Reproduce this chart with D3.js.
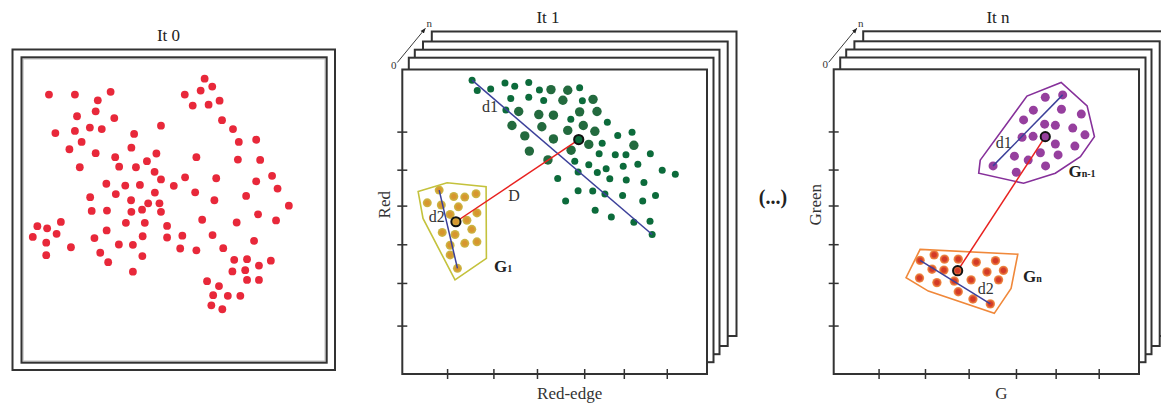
<!DOCTYPE html>
<html>
<head>
<meta charset="utf-8">
<script src="https://cdn.jsdelivr.net/npm/d3@7"></script>
<style>
  body { margin: 0; background: #fff; }
  svg { display: block; font-family: "Liberation Serif", "DejaVu Serif", serif; }
</style>
</head>
<body>
<div id="chart"></div>
<script>
// panel units: 0..100 on both axes of each plot area

// It 0 – unclassified pixels
const it0Points = [
  [9.0,87.8],[17.5,87.8],[25.0,85.9],[29.2,88.7],[18.2,80.7],[24.3,82.3],[30.4,80.1],[11.1,75.2],
  [17.5,75.9],[22.4,77.0],[26.3,76.5],[19.7,72.3],[15.7,69.9],[24.3,68.6],[19.1,64.0],[36.9,74.9],
  [36.0,70.4],[30.7,67.3],[32.0,64.2],[37.5,64.0],[41.1,66.0],[44.2,68.5],[45.7,77.6],[43.6,62.5],
  [45.7,60.0],[27.8,58.6],[34.0,58.0],[38.8,58.2],[30.9,55.2],[43.7,55.7],[49.9,57.9],[53.6,60.7],
  [56.9,55.8],[57.3,67.3],[63.8,60.4],[60.0,93.0],[53.5,87.8],[58.7,89.1],[62.5,90.4],[56.1,84.2],
  [61.3,84.5],[64.9,85.8],[65.7,79.4],[69.3,76.5],[71.2,72.3],[76.9,73.0],[70.9,66.5],[78.2,66.4],
  [82.1,61.2],[76.9,59.4],[83.9,57.0],[73.6,54.6],[63.2,53.2],[22.5,54.2],[35.9,53.2],[23.0,49.7],
  [28.0,49.8],[36.0,49.4],[39.5,50.1],[41.5,52.2],[45.2,52.2],[45.7,49.4],[87.6,51.4],[77.5,48.6],
  [83.4,46.6],[70.5,45.9],[59.2,46.8],[34.2,45.8],[40.4,45.8],[47.7,44.8],[12.9,46.1],[5.2,44.7],
  [8.4,44.0],[11.5,42.2],[3.7,41.2],[8.1,39.3],[16.2,37.8],[8.1,35.2],[27.9,43.3],[23.9,40.8],
  [39.7,41.4],[47.7,41.0],[52.7,41.6],[62.6,41.8],[31.9,38.7],[36.5,38.6],[25.8,36.0],[28.4,32.9],
  [39.6,34.9],[36.5,29.8],[52.0,37.4],[57.3,36.8],[66.1,37.5],[76.2,39.9],[69.7,33.7],[73.9,33.9],
  [77.8,31.8],[81.7,33.4],[69.1,29.9],[73.3,30.3],[73.9,27.1],[77.8,27.1],[60.8,26.7],[64.7,25.1],
  [62.8,22.1],[67.6,21.9],[71.7,21.9],[62.2,18.8],[65.8,17.5]
];

// It 1 – green cluster (two dot sizes), yellow group G1
const it1GreenSmall = [
  [22.9,96.5],[24.6,93.1],[29.0,93.6],[33.7,95.6],[36.9,94.5],[41.5,95.7],[45.0,93.3],[58.2,94.0],
  [35.6,90.5],[41.5,90.9],[46.4,89.8],[59.1,89.7],[34.0,86.7],[55.3,83.7],[67.3,82.7],[65.6,75.8],
  [70.7,78.3],[75.4,79.4],[56.6,69.9],[64.6,72.3],[69.9,72.0],[73.4,72.0],[81.4,72.3],[61.2,68.7],
  [66.9,67.4],[72.5,68.2],[77.3,68.9],[57.7,66.3],[64.0,66.2],[51.0,64.2],[68.1,64.1],[73.5,63.7],
  [79.3,62.9],[85.3,66.9],[89.6,65.6],[57.7,60.2],[62.5,60.1],[66.5,59.1],[72.3,58.6],[78.9,56.8],
  [83.1,58.6],[53.6,56.8],[63.3,53.8],[68.6,51.6],[76.0,49.8],[81.3,50.2],[82.0,45.8]
];
const it1GreenLarge = [
  [48.8,93.4],[54.3,93.2],[52.7,89.9],[62.6,90.2],[38.2,86.2],[44.8,85.2],[49.6,85.0],[58.2,86.1],
  [63.9,86.2],[36.0,81.6],[45.8,81.2],[54.3,80.0],[59.4,81.6],[63.2,79.7],[40.2,78.2],[49.6,77.2],
  [61.2,75.4],[76.0,75.1],[41.7,73.2],[47.8,70.3],[55.4,73.5]
];
const it1GreenCentre = [57.9,77.0];
const it1Yellow = [
  [12.1,60.4],[16.9,58.3],[20.5,58.1],[24.2,59.2],[8.2,56.2],[12.8,55.5],[18.4,54.9],[15.7,52.4],
  [24.5,52.9],[21.2,50.5],[13.1,46.5],[17.3,45.8],[22.8,47.5],[15.7,42.3],[20.5,42.9],[24.5,43.4],
  [15.7,39.1],[18.1,34.7]
];
const it1YellowCentre = [17.6,50.0];
const it1YellowHull = [[5.2,59.9],[14.7,62.8],[27.5,61.5],[27.6,38.0],[17.3,30.9],[6.8,51.1]];
const it1D1 = [[22.9,96.5],[82.0,45.8]];
const it1D2 = [[12.1,60.4],[18.1,34.7]];
const it1D = [it1GreenCentre, it1YellowCentre];

// It n – purple group Gn-1, orange group Gn
const itnPurple = [
  [52.2,68.3],[75.0,91.6],[69.3,90.8],[65.4,86.6],[74.6,86.9],[81.1,85.3],[62.2,83.4],[69.1,82.0],
  [72.6,81.6],[78.3,80.7],[82.3,78.5],[61.7,77.7],[65.3,78.0],[72.6,75.5],[79.0,74.8],[59.2,71.5],
  [63.7,70.2],[67.7,72.6],[73.5,71.9],[59.8,66.2],[69.4,68.3]
];
const itnPurpleCentre = [69.3,77.9];
const itnPurpleHull = [[48.0,70.2],[63.3,91.2],[74.5,95.7],[83.0,88.0],[85.4,77.9],[80.8,71.3],[72.6,65.9],[62.2,62.6],[47.5,65.9]];
const itnOrange = [
  [32.9,39.1],[36.3,37.7],[40.8,37.7],[46.7,36.7],[53.0,37.2],[28.3,37.3],[32.2,34.4],[36.1,34.1],
  [50.2,33.5],[55.6,34.0],[28.1,31.5],[33.8,30.0],[39.5,30.5],[45.0,30.9],[54.0,30.9],[40.8,27.0],
  [45.6,24.6],[51.3,23.0]
];
const itnOrangeCentre = [40.6,33.9];
const itnOrangeHull = [[28.3,40.9],[60.3,39.3],[58.1,28.1],[52.6,19.9],[31.0,27.2],[23.7,31.6]];
const itnD1 = [[52.2,68.3],[75.0,91.6]];
const itnD2 = [[28.3,37.3],[51.3,23.0]];
const itnD = [itnPurpleCentre, itnOrangeCentre];

// axis ticks (unlabelled)
const xTicks = [14.7, 29.9, 44.2, 59.7, 72.7, 86.8];
const yTicks = [15.9, 29.9, 42.6, 55.3, 67.1, 79.6];

// annotations, in panel units
const it1Labels = [
  { text: "d1", at: [28.8, 87.7] },
  { text: "d2", at: [11.3, 51.4] },
  { text: "D", at: [36.7, 58.4] }
];
const itnLabels = [
  { text: "d1", at: [55.7, 75.7] },
  { text: "d2", at: [49.8, 27.9] }
];

const width = 1161, height = 403;
const ink = "#333";

const svg = d3.select("#chart").append("svg")
  .attr("width", width)
  .attr("height", height);

svg.append("rect").attr("width", width).attr("height", height).attr("fill", "#fff");

const defs = svg.append("defs");
function radial(id, inner, outer) {
  const g = defs.append("radialGradient").attr("id", id);
  g.append("stop").attr("offset", "45%").attr("stop-color", inner);
  g.append("stop").attr("offset", "100%").attr("stop-color", outer);
}
radial("yellowDot", "#d7962e", "#c9bd4a");
radial("orangeDot", "#d43a26", "#f49a4c");

defs.append("marker")
  .attr("id", "arrow")
  .attr("viewBox", "0 0 10 10")
  .attr("refX", 9).attr("refY", 5)
  .attr("markerWidth", 6).attr("markerHeight", 6)
  .attr("orient", "auto")
  .append("path").attr("d", "M0,1 L10,5 L0,9 Z").attr("fill", "#222");

const frames = {
  it0: { x: 21.5, y: 57.3, w: 305.2, h: 305.4 },
  it1: { x: 402.3, y: 69.5, w: 304.7, h: 304.5 },
  itn: { x: 833.7, y: 69.3, w: 305.3, h: 304.7 }
};
const stackOffsets = [[29.5, -38], [20.7, -28], [12.5, -19.8], [6.5, -11.8]];

function scalesFor(f) {
  return {
    x: d3.scaleLinear().domain([0, 100]).range([f.x, f.x + f.w]),
    y: d3.scaleLinear().domain([0, 100]).range([f.y + f.h, f.y])
  };
}

function title(text, x, y) {
  svg.append("text")
    .attr("x", x).attr("y", y)
    .attr("text-anchor", "middle")
    .attr("font-size", 17)
    .attr("fill", "#222")
    .text(text);
}

function dots(g, data, s, r, fill) {
  g.append("g").selectAll("circle")
    .data(data)
    .join("circle")
    .attr("cx", d => s.x(d[0]))
    .attr("cy", d => s.y(d[1]))
    .attr("r", r)
    .attr("fill", fill);
}

function hull(g, pts, s, color) {
  g.append("path")
    .attr("d", d3.line().x(d => s.x(d[0])).y(d => s.y(d[1])).curve(d3.curveLinearClosed)(pts))
    .attr("fill", "none")
    .attr("stroke", color)
    .attr("stroke-width", 1.6);
}

function segment(g, pts, s, color) {
  g.append("line")
    .attr("x1", s.x(pts[0][0])).attr("y1", s.y(pts[0][1]))
    .attr("x2", s.x(pts[1][0])).attr("y2", s.y(pts[1][1]))
    .attr("stroke", color)
    .attr("stroke-width", 1.5);
}

function centre(g, p, s, fill) {
  g.append("circle")
    .attr("cx", s.x(p[0])).attr("cy", s.y(p[1]))
    .attr("r", 4.6)
    .attr("fill", fill)
    .attr("stroke", "#111")
    .attr("stroke-width", 2);
}

function labels(g, list, s) {
  g.append("g").selectAll("text")
    .data(list)
    .join("text")
    .attr("x", d => s.x(d.at[0]))
    .attr("y", d => s.y(d.at[1]) + 5)
    .attr("text-anchor", "middle")
    .attr("font-size", 16)
    .attr("fill", "#333")
    .text(d => d.text);
}

function groupName(g, at, s, sub) {
  const t = g.append("text")
    .attr("x", s.x(at[0]))
    .attr("y", s.y(at[1]) + 5)
    .attr("font-weight", "bold")
    .attr("font-size", 17)
    .attr("fill", "#222");
  t.append("tspan").text("G");
  t.append("tspan").attr("font-size", 10).text(sub);
}

// stacked plot with crossing ticks, arrow 0 -> n
function stackedPlot(f, s, yLabel, xLabel, yLabelX) {
  const g = svg.append("g");
  stackOffsets.forEach(o => {
    g.append("rect")
      .attr("x", f.x + o[0]).attr("y", f.y + o[1])
      .attr("width", f.w).attr("height", f.h)
      .attr("fill", "#fff").attr("stroke", ink).attr("stroke-width", 2);
  });
  g.append("rect")
    .attr("x", f.x).attr("y", f.y)
    .attr("width", f.w).attr("height", f.h)
    .attr("fill", "#fff").attr("stroke", ink).attr("stroke-width", 2);

  const yAxis = g.append("g")
    .attr("transform", `translate(${f.x},0)`)
    .call(d3.axisLeft(s.y).tickValues(yTicks).tickSize(5).tickFormat(""));
  yAxis.select(".domain").remove();
  yAxis.selectAll(".tick line").attr("x1", 5).attr("stroke", ink).attr("stroke-width", 1.5);

  const xAxis = g.append("g")
    .attr("transform", `translate(0,${f.y + f.h})`)
    .call(d3.axisBottom(s.x).tickValues(xTicks).tickSize(5).tickFormat(""));
  xAxis.select(".domain").remove();
  xAxis.selectAll(".tick line").attr("y1", -5).attr("stroke", ink).attr("stroke-width", 1.5);

  g.append("text")
    .attr("transform", `translate(${yLabelX},${f.y + f.h / 2 - 17}) rotate(-90)`)
    .attr("text-anchor", "middle")
    .attr("font-size", 17)
    .attr("fill", "#333")
    .text(yLabel);
  g.append("text")
    .attr("x", f.x + f.w / 2 + 15).attr("y", f.y + f.h + 24.5)
    .attr("text-anchor", "middle")
    .attr("font-size", 17)
    .attr("fill", "#333")
    .text(xLabel);

  g.append("line")
    .attr("x1", f.x - 5).attr("y1", f.y - 7)
    .attr("x2", f.x + 23).attr("y2", f.y - 41)
    .attr("stroke", "#222").attr("stroke-width", 0.9)
    .attr("marker-end", "url(#arrow)");
  g.append("text").attr("x", f.x - 8.5).attr("y", f.y - 1)
    .attr("text-anchor", "middle").attr("font-size", 11).attr("fill", "#333").text("0");
  g.append("text").attr("x", f.x + 27).attr("y", f.y - 42.5)
    .attr("text-anchor", "middle").attr("font-size", 11).attr("fill", "#333").text("n");
  return g;
}

// ---- It 0
(function () {
  const f = frames.it0;
  const s = scalesFor(f);
  title("It 0", 168.5, 40.5);
  const g = svg.append("g");
  g.append("rect").attr("x", 12.5).attr("y", 49.5).attr("width", 322.5).attr("height", 320.5)
    .attr("fill", "none").attr("stroke", ink).attr("stroke-width", 2);
  g.append("rect").attr("x", f.x + 1.6).attr("y", f.y + 1.6).attr("width", f.w - 3.2).attr("height", f.h - 3.2)
    .attr("fill", "none").attr("stroke", "#c8c8c8").attr("stroke-width", 1.4);
  g.append("rect").attr("x", f.x).attr("y", f.y).attr("width", f.w).attr("height", f.h)
    .attr("fill", "none").attr("stroke", ink).attr("stroke-width", 2);
  dots(g, it0Points, s, 3.9, "#e8283a");
})();

// ---- It 1
(function () {
  const f = frames.it1;
  const s = scalesFor(f);
  title("It 1", 548, 22.5);
  const g = stackedPlot(f, s, "Red", "Red-edge", 390);
  hull(g, it1YellowHull, s, "#c4c23c");
  dots(g, it1GreenSmall, s, 3.5, "#0c6b3b");
  dots(g, it1GreenLarge, s, 4.7, "#236a3e");
  dots(g, it1Yellow, s, 4.5, "url(#yellowDot)");
  segment(g, it1D1, s, "#3c409a");
  segment(g, it1D2, s, "#3c409a");
  segment(g, it1D, s, "#e8211f");
  centre(g, it1GreenCentre, s, "#0c6b3b");
  centre(g, it1YellowCentre, s, "url(#yellowDot)");
  labels(g, it1Labels, s);
  groupName(g, [30.1, 35.1], s, "1");
})();

// ---- (...)
svg.append("text")
  .attr("x", 773).attr("y", 204)
  .attr("text-anchor", "middle")
  .attr("font-size", 20)
  .attr("font-weight", "bold")
  .attr("fill", "#222")
  .text("(...)");

// ---- It n
(function () {
  const f = frames.itn;
  const s = scalesFor(f);
  title("It n", 998, 22.5);
  const g = stackedPlot(f, s, "Green", "G", 821);
  hull(g, itnPurpleHull, s, "#86309a");
  hull(g, itnOrangeHull, s, "#f0883a");
  dots(g, itnPurple, s, 4.5, "#963f9e");
  dots(g, itnOrange, s, 4.7, "url(#orangeDot)");
  segment(g, itnD1, s, "#3c409a");
  segment(g, itnD2, s, "#3c409a");
  segment(g, itnD, s, "#e8211f");
  centre(g, itnPurpleCentre, s, "#963f9e");
  centre(g, itnOrangeCentre, s, "url(#orangeDot)");
  labels(g, itnLabels, s);
  groupName(g, [76.9, 66.3], s, "n-1");
  groupName(g, [62.0, 31.7], s, "n");
})();
</script>
</body>
</html>
